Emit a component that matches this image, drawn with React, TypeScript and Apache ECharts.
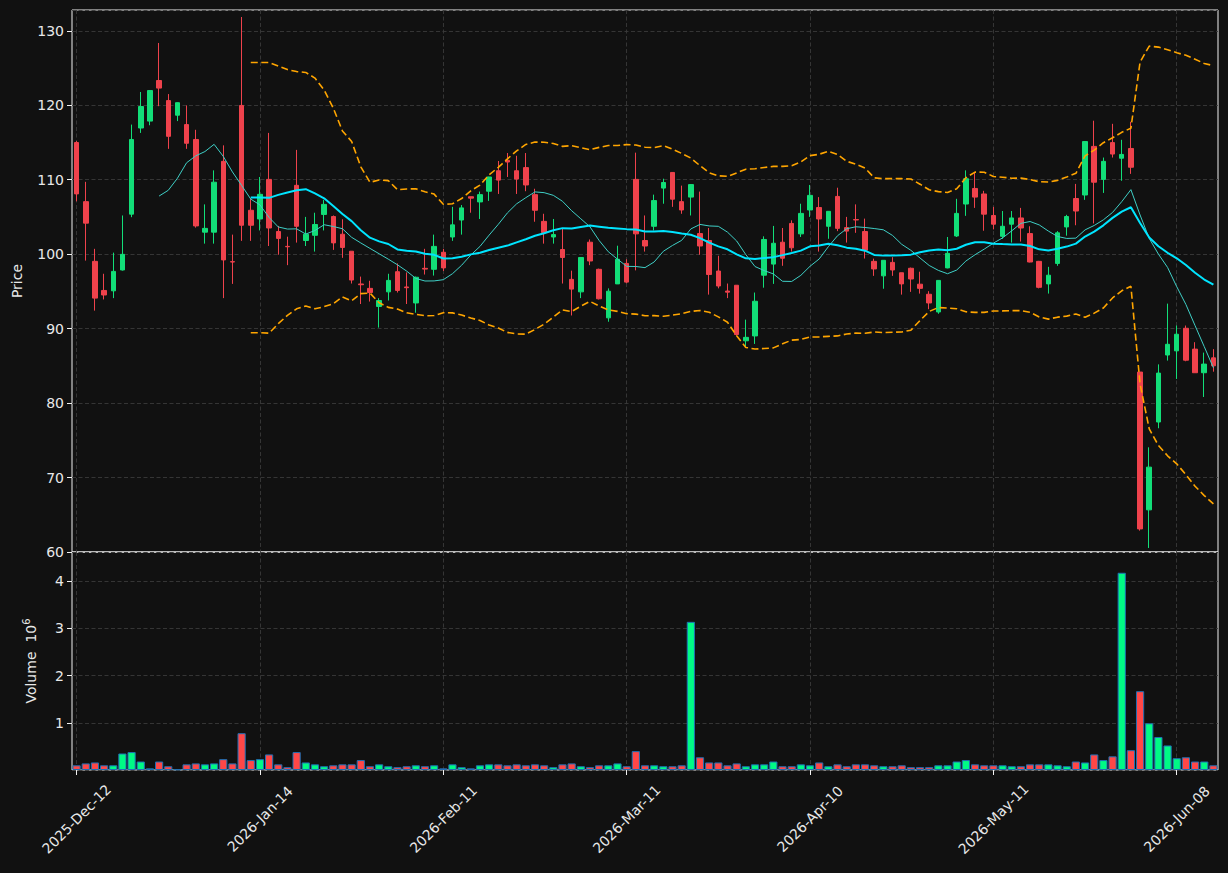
import React, { useEffect, useRef } from "react";
import * as echarts from "echarts";

const MONTHS = ["Jan", "Feb", "Mar", "Apr", "May", "Jun", "Jul", "Aug", "Sep", "Oct", "Nov", "Dec"];
const tickDates = ["2025-Dec-12", "2026-Jan-14", "2026-Feb-11", "2026-Mar-11", "2026-Apr-10", "2026-May-11", "2026-Jun-08"];

const opens = [
  115.0, 107.06, 99.04, 95.13, 95.08, 97.88, 105.38, 116.95, 117.88, 123.33,
  120.63, 118.67, 117.41, 115.41, 102.96, 102.96, 112.47, 99.0, 119.98, 105.9,
  104.73, 110.05, 103.05, 101.05, 109.25, 101.84, 102.54, 105.34, 105.06, 102.68,
  100.4, 96.0, 95.41, 92.98, 94.94, 97.65, 95.6, 93.45, 98.1, 97.97,
  100.26, 102.31, 104.59, 107.72, 107.02, 108.46, 111.21, 112.61, 111.21, 111.63,
  108.0, 104.41, 102.31, 100.63, 96.62, 94.94, 101.61, 97.97, 91.45, 96.01,
  98.76, 110.05, 101.84, 103.75, 108.88, 110.98, 107.06, 107.67, 102.77, 101.84,
  97.74, 95.05, 95.83, 88.37, 89.02, 97.18, 98.67, 101.61, 104.13, 102.73,
  105.94, 106.27, 103.75, 107.76, 103.57, 104.65, 103.05, 99.04, 97.09, 98.9,
  97.51, 98.11, 95.97, 94.62, 92.24, 98.16, 102.45, 106.74, 108.83, 108.09,
  105.2, 102.4, 104.03, 104.87, 102.77, 99.04, 96.01, 98.76, 103.66, 107.48,
  107.95, 114.48, 110.05, 114.99, 112.89, 114.2, 84.17, 65.66, 77.46, 86.46,
  87.02, 90.05, 87.25, 84.08, 86.08,
];
const closes = [
  108.1, 104.17, 94.1, 94.52, 97.69, 99.98, 115.41, 119.84, 121.98, 122.31,
  115.83, 120.35, 114.9, 103.8, 103.47, 109.67, 99.23, 98.95, 103.89, 103.89,
  108.04, 103.52, 102.12, 101.0, 103.75, 102.68, 103.99, 106.69, 101.52, 100.91,
  96.53, 95.9, 94.85, 93.78, 96.48, 95.13, 95.5, 96.9, 98.0, 101.05,
  98.16, 103.94, 106.22, 107.53, 108.0, 110.37, 109.95, 112.38, 110.09, 109.3,
  105.9, 102.91, 102.63, 99.56, 95.31, 99.56, 99.09, 94.01, 95.03, 99.32,
  96.25, 102.73, 101.1, 107.2, 109.63, 107.39, 105.94, 109.35, 101.1, 97.27,
  95.73, 94.9, 89.21, 88.83, 93.68, 101.98, 101.47, 99.46, 100.86, 105.48,
  107.9, 104.73, 105.76, 103.47, 103.1, 104.6, 100.54, 98.02, 99.18, 97.88,
  96.01, 96.67, 95.41, 93.45, 96.48, 100.12, 105.48, 110.14, 107.67, 105.38,
  104.03, 103.75, 104.87, 103.52, 98.95, 95.55, 97.18, 102.87, 105.06, 105.8,
  115.13, 109.67, 112.47, 113.45, 113.4, 111.68, 63.1, 71.4, 84.03, 87.9,
  89.25, 85.76, 84.08, 85.24, 85.01,
];
const highs = [
  115.2, 109.72, 100.72, 97.37, 100.21, 105.2, 117.41, 121.79, 122.0, 128.37,
  121.51, 120.4, 119.98, 116.71, 106.69, 111.26, 114.62, 102.63, 131.86, 107.53,
  110.37, 116.29, 103.8, 102.35, 114.01, 105.01, 105.57, 107.3, 105.2, 104.69,
  100.4, 96.99, 96.43, 94.1, 97.37, 98.76, 97.55, 97.0, 100.72, 102.63,
  100.72, 106.36, 106.6, 107.72, 108.41, 110.4, 112.52, 113.59, 113.22, 113.59,
  108.79, 105.43, 104.73, 103.52, 97.79, 99.6, 101.98, 98.06, 95.41, 101.14,
  99.32, 113.64, 105.2, 108.0, 110.14, 111.0, 109.21, 109.4, 108.41, 103.52,
  99.79, 96.06, 95.83, 91.21, 94.85, 102.4, 103.8, 103.52, 104.55, 106.78,
  109.3, 107.67, 105.8, 108.93, 105.01, 106.69, 104.78, 99.4, 99.2, 99.6,
  97.51, 98.2, 97.65, 95.03, 96.5, 102.31, 107.44, 111.26, 111.03, 108.51,
  106.36, 105.8, 105.8, 106.22, 103.75, 99.1, 98.3, 103.1, 105.29, 109.44,
  115.2, 117.93, 112.98, 117.51, 115.36, 117.79, 84.2, 74.06, 85.2, 93.36,
  90.42, 90.42, 88.18, 86.78, 87.25,
];
const lows = [
  107.1, 99.14, 92.42, 93.92, 94.1, 97.8, 104.97, 116.29, 117.32, 119.88,
  114.15, 117.88, 114.15, 103.57, 101.42, 101.42, 94.1, 96.01, 101.79, 101.79,
  103.19, 101.1, 99.93, 98.53, 101.56, 101.1, 100.35, 103.19, 100.58, 99.51,
  96.06, 93.31, 93.64, 90.14, 93.78, 94.85, 93.31, 92.14, 97.27, 97.13,
  97.74, 101.79, 102.63, 105.57, 104.73, 107.16, 108.09, 110.37, 108.09, 108.46,
  104.36, 101.42, 101.42, 96.06, 91.77, 94.1, 98.53, 93.92, 90.93, 96.0,
  96.1, 97.83, 100.35, 103.19, 106.78, 106.36, 105.43, 105.2, 99.93, 94.57,
  95.41, 94.1, 89.1, 87.58, 87.95, 95.5, 96.01, 98.44, 100.35, 102.31,
  105.01, 100.35, 102.07, 103.1, 101.56, 102.87, 99.42, 97.09, 95.36, 97.09,
  94.57, 94.94, 94.71, 92.61, 92.0, 98.1, 102.31, 105.15, 106.22, 103.15,
  103.33, 102.07, 101.56, 101.7, 98.9, 95.41, 94.71, 98.44, 102.49, 103.89,
  107.3, 104.13, 108.23, 112.98, 109.86, 110.79, 62.87, 60.54, 76.62, 85.71,
  83.24, 85.62, 84.08, 80.82, 84.22,
];
// volume in millions (axis shows 10^6)
const volumes = [
  0.10, 0.14, 0.16, 0.10, 0.10, 0.35, 0.38, 0.18, 0.035, 0.18,
  0.08, 0.015, 0.12, 0.14, 0.12, 0.14, 0.23, 0.14, 0.78, 0.21,
  0.23, 0.33, 0.12, 0.06, 0.38, 0.16, 0.12, 0.08, 0.10, 0.12,
  0.12, 0.21, 0.08, 0.12, 0.08, 0.06, 0.08, 0.10, 0.08, 0.10,
  0.035, 0.12, 0.06, 0.035, 0.10, 0.12, 0.12, 0.10, 0.12, 0.10,
  0.12, 0.10, 0.06, 0.12, 0.14, 0.08, 0.06, 0.10, 0.10, 0.14,
  0.08, 0.40, 0.10, 0.10, 0.08, 0.08, 0.10, 3.14, 0.27, 0.16,
  0.16, 0.10, 0.14, 0.08, 0.12, 0.12, 0.18, 0.08, 0.08, 0.12,
  0.10, 0.16, 0.08, 0.12, 0.08, 0.12, 0.12, 0.10, 0.08, 0.08,
  0.10, 0.06, 0.06, 0.06, 0.10, 0.10, 0.18, 0.21, 0.12, 0.10,
  0.10, 0.10, 0.08, 0.08, 0.12, 0.12, 0.12, 0.10, 0.08, 0.18,
  0.16, 0.33, 0.21, 0.29, 4.18, 0.42, 1.67, 0.99, 0.70, 0.52,
  0.25, 0.27, 0.18, 0.18, 0.10,
];

const N = opens.length;

function parseLabel(s: string): Date {
  const [y, m, d] = s.split("-");
  return new Date(Date.UTC(+y, MONTHS.indexOf(m), +d));
}
function fmt(dt: Date): string {
  return `${dt.getUTCFullYear()}-${MONTHS[dt.getUTCMonth()]}-${String(dt.getUTCDate()).padStart(2, "0")}`;
}
function buildDates(): string[] {
  const out: string[] = [];
  for (let a = 0; a < tickDates.length; a++) {
    const dt = parseLabel(tickDates[a]);
    out.push(tickDates[a]);
    const count = a < tickDates.length - 1 ? 19 : N - out.length;
    for (let k = 0; k < count; k++) {
      do {
        dt.setUTCDate(dt.getUTCDate() + 1);
      } while (dt.getUTCDay() === 0 || dt.getUTCDay() === 6);
      out.push(fmt(dt));
    }
  }
  return out.slice(0, N);
}

function sma(arr: number[], n: number): (number | null)[] {
  return arr.map((_, i) => {
    if (i < n - 1) return null;
    let s = 0;
    for (let k = i - n + 1; k <= i; k++) s += arr[k];
    return s / n;
  });
}
function bands(arr: number[], n: number, k: number, sign: number): (number | null)[] {
  return arr.map((_, i) => {
    if (i < n - 1) return null;
    let s = 0;
    for (let j = i - n + 1; j <= i; j++) s += arr[j];
    const m = s / n;
    let v = 0;
    for (let j = i - n + 1; j <= i; j++) v += (arr[j] - m) ** 2;
    return m + sign * k * Math.sqrt(v / n);
  });
}

const GREEN = "#12de78";
const RED = "#ef424c";
const VGREEN = "#00fa85";
const VRED = "#ff4747";
const TEXT = "#e8e8e8";
const SPINE = "#f2f2f2";
const GRID = "#3a3a3a";
const FONT = "DejaVu Sans";

export default function App() {
  const ref = useRef<HTMLDivElement>(null);
  useEffect(() => {
    document.body.style.margin = "0";
    document.body.style.background = "#111111";
    const chart = echarts.init(ref.current!, undefined, { renderer: "svg" });
    const dates = buildDates();
    const tickInterval = (i: number) => i % 20 === 0;
    const gridLine = { show: true, lineStyle: { color: GRID, type: [4, 2.5], width: 0.9 } };

    const option: any = {
      animation: false,
      backgroundColor: "#111111",
      textStyle: { fontFamily: FONT },
      grid: [
        { left: 72, top: 10, width: 1146, height: 542, show: true, borderColor: SPINE, borderWidth: 1, backgroundColor: "transparent" },
        { left: 72, top: 552, width: 1146, height: 218, show: true, borderColor: SPINE, borderWidth: 1, backgroundColor: "transparent" },
      ],
      xAxis: [
        {
          type: "category", gridIndex: 0, data: dates, boundaryGap: true,
          axisLine: { show: false }, axisTick: { show: false }, axisLabel: { show: false },
          splitLine: { ...gridLine, interval: tickInterval, alignWithLabel: true },
        },
        {
          type: "category", gridIndex: 1, data: dates, boundaryGap: true,
          axisLine: { show: false },
          axisTick: { show: true, alignWithLabel: true, interval: tickInterval, length: 5, lineStyle: { color: SPINE } },
          axisLabel: {
            interval: tickInterval, rotate: 45, color: TEXT, fontSize: 14, fontFamily: FONT,
            margin: 49, align: "center", verticalAlign: "middle",
          },
          splitLine: { ...gridLine, interval: tickInterval, alignWithLabel: true },
        },
      ],
      yAxis: [
        {
          type: "value", gridIndex: 0, min: 60, max: 132.8, interval: 10,
          name: "Price", nameLocation: "middle", nameGap: 48, nameRotate: 90,
          nameTextStyle: { color: TEXT, fontSize: 14, fontFamily: FONT },
          axisLine: { show: false },
          axisTick: { show: true, length: 5, lineStyle: { color: SPINE } },
          axisLabel: { color: TEXT, fontSize: 14, fontFamily: FONT, margin: 8, showMaxLabel: false },
          splitLine: gridLine,
        },
        {
          type: "value", gridIndex: 1, min: 0, max: 4.62, interval: 1,
          name: "Volume  10{sup|6}", nameLocation: "middle", nameGap: 31, nameRotate: 90,
          nameTextStyle: {
            color: TEXT, fontSize: 14, fontFamily: FONT,
            rich: { sup: { color: TEXT, fontSize: 10, fontFamily: FONT, verticalAlign: "top", lineHeight: 20 } },
          },
          axisLine: { show: false },
          axisTick: { show: true, length: 5, lineStyle: { color: SPINE } },
          axisLabel: { color: TEXT, fontSize: 14, fontFamily: FONT, margin: 8, showMinLabel: false, showMaxLabel: false },
          splitLine: gridLine,
        },
      ],
      series: [
        {
          type: "candlestick", xAxisIndex: 0, yAxisIndex: 0,
          data: opens.map((o, i) => [o, closes[i], lows[i], highs[i]]),
          barWidth: 5,
          itemStyle: { color: GREEN, color0: RED, borderColor: GREEN, borderColor0: RED, borderWidth: 1 },
        },
        {
          type: "line", xAxisIndex: 0, yAxisIndex: 0, data: sma(closes, 10),
          symbol: "none", lineStyle: { color: "#3fcfc6", width: 1 }, z: 3,
        },
        {
          type: "line", xAxisIndex: 0, yAxisIndex: 0, data: sma(closes, 20),
          symbol: "none", lineStyle: { color: "#00e5ff", width: 2 }, z: 4,
        },
        {
          type: "line", xAxisIndex: 0, yAxisIndex: 0, data: bands(closes, 20, 2, 1),
          symbol: "none", lineStyle: { color: "#ffa500", width: 1.6, type: [7, 3.5] }, z: 4,
        },
        {
          type: "line", xAxisIndex: 0, yAxisIndex: 0, data: bands(closes, 20, 2, -1),
          symbol: "none", lineStyle: { color: "#ffa500", width: 1.6, type: [7, 3.5] }, z: 4,
        },
        {
          type: "bar", xAxisIndex: 1, yAxisIndex: 1,
          data: volumes.map((v, i) => ({ value: v, itemStyle: { color: closes[i] >= opens[i] ? VGREEN : VRED } })),
          barWidth: 8.2,
          itemStyle: { borderColor: "#1f6fb4", borderWidth: 1 },
        },
      ],
    };
    chart.setOption(option);
    return () => chart.dispose();
  }, []);
  return <div ref={ref} style={{ width: 1228, height: 873, background: "#111111" }} />;
}
